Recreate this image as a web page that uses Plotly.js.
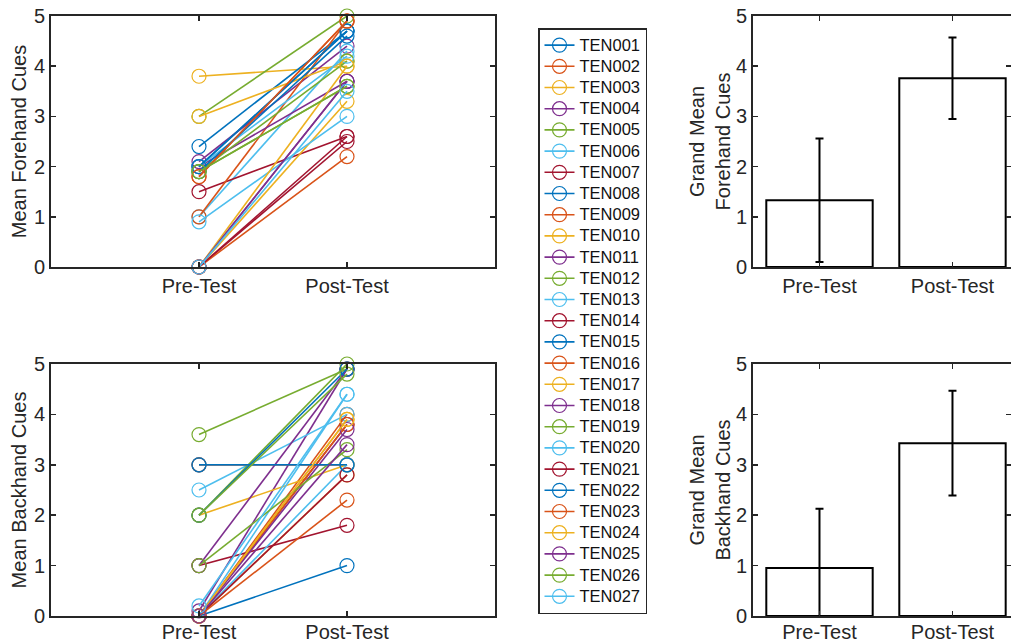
<!DOCTYPE html>
<html>
<head>
<meta charset="utf-8">
<script src="https://cdn.plot.ly/plotly-3.0.1.min.js"></script>
<style>html,body{margin:0;padding:0;background:#fff;overflow:hidden;}</style>
</head>
<body>
<div id="chart" style="width:1011px;height:644px;"></div>
<script>
// ---- data ----
const categories = ['Pre-Test', 'Post-Test'];
const subjects = ['TEN001','TEN002','TEN003','TEN004','TEN005','TEN006','TEN007','TEN008','TEN009','TEN010',
  'TEN011','TEN012','TEN013','TEN014','TEN015','TEN016','TEN017','TEN018','TEN019','TEN020',
  'TEN021','TEN022','TEN023','TEN024','TEN025','TEN026','TEN027'];
const forePre  = [2.0, 1.8, 3.8, 2.1, 3.0, 1.0, 1.5, 2.4, 1.0, 3.0, 2.0, 1.9, 2.0, 0.0, 1.9, 0.0, 0.0, 0.0, 1.9, 0.9, 0.0, 2.0, 1.8, 0.0, 0.0, 1.9, 0.0];
const forePost = [4.7, 4.9, 4.0, 4.4, 5.0, 4.3, 2.6, 4.7, 4.9, 4.1, 3.7, 4.1, 4.2, 2.5, 4.6, 2.2, 3.3, 3.7, 3.6, 3.0, 2.6, 4.7, 4.9, 4.0, 3.7, 3.6, 3.5];
const backPre  = [0.0, 0.0, 0.0, 0.1, 3.6, 2.5, 1.0, 3.0, 3.0, 2.0, 1.0, 2.0, 0.0, 0.0, 2.0, 0.0, 0.0, 0.0, 1.0, 0.0, 0.0, 3.0, 0.0, 0.0, 0.0, 2.0, 0.2];
const backPost = [1.0, 4.0, 2.8, 4.9, 4.9, 4.0, 1.8, 3.0, 3.0, 3.0, 4.9, 5.0, 4.4, 3.8, 4.9, 3.8, 3.9, 3.7, 3.3, 3.0, 2.8, 3.0, 2.3, 3.9, 3.4, 4.8, 4.4];
const grandForeMean = [1.33, 3.76];
const grandForeSD   = [1.23, 0.81];
const grandBackMean = [0.95, 3.43];
const grandBackSD   = [1.18, 1.04];

// ---- style ----
const palette = ['#0072BD','#D95319','#EDB120','#7E2F8E','#77AC30','#4DBEEE','#A2142F'];
const FONT = 'Liberation Sans, Arial, Helvetica, sans-serif';
const TXT = '#262626';
const FS = 20;

const traces = [];
subjects.forEach((s, i) => {
  const c = palette[i % palette.length];
  traces.push({
    type: 'scatter', mode: 'lines+markers',
    name: '<span style="font-size:16.5px">' + s + '</span>',
    x: categories, y: [forePre[i], forePost[i]],
    xaxis: 'x', yaxis: 'y',
    line: {color: c, width: 1.6},
    marker: {symbol: 'circle-open', size: 14, color: c, line: {width: 1.2, color: c}},
    showlegend: true, legendgroup: s, cliponaxis: false
  });
});
subjects.forEach((s, i) => {
  const c = palette[i % palette.length];
  traces.push({
    type: 'scatter', mode: 'lines+markers', name: s,
    x: categories, y: [backPre[i], backPost[i]],
    xaxis: 'x2', yaxis: 'y2',
    line: {color: c, width: 1.6},
    marker: {symbol: 'circle-open', size: 14, color: c, line: {width: 1.2, color: c}},
    showlegend: false, legendgroup: s, cliponaxis: false
  });
});
function barTrace(means, sds, xa, ya) {
  return {
    type: 'bar', x: categories, y: means, xaxis: xa, yaxis: ya, width: 0.8,
    marker: {color: '#ffffff', line: {color: '#000000', width: 2}},
    error_y: {type: 'data', array: sds, visible: true, color: '#000000', thickness: 2, width: 4},
    showlegend: false
  };
}
traces.push(barTrace(grandForeMean, grandForeSD, 'x3', 'y3'));
traces.push(barTrace(grandBackMean, grandBackSD, 'x4', 'y4'));

function xAx(domain, anchor, range, lift) {
  return {
    domain: domain, anchor: anchor, type: 'category', categoryarray: categories,
    range: range, showline: true, linecolor: TXT, linewidth: 2, mirror: 'ticks',
    ticks: 'inside', ticklen: 5, tickwidth: 1.5, tickcolor: TXT,
    ticklabelstandoff: lift,
    tickfont: {family: FONT, size: FS, color: TXT}, showgrid: false, zeroline: false, fixedrange: true
  };
}
function yAx(domain, anchor, title, standoff) {
  return {
    domain: domain, anchor: anchor, range: [0, 5], dtick: 1, tick0: 0,
    showline: true, linecolor: TXT, linewidth: 2, mirror: 'ticks',
    ticks: 'inside', ticklen: 5, tickwidth: 1.5, tickcolor: TXT,
    tickfont: {family: FONT, size: FS, color: TXT}, showgrid: false, zeroline: false,
    title: {text: title, font: {family: FONT, size: FS, color: TXT}, standoff: standoff}, fixedrange: true
  };
}

const W = 1011, H = 644;
const px = v => v / W, py = v => 1 - v / H;

const layout = {
  width: W, height: H,
  margin: {l: 0, r: 0, t: 0, b: 0},
  paper_bgcolor: '#ffffff', plot_bgcolor: '#ffffff',
  font: {family: FONT, color: TXT},
  showlegend: true,
  xaxis:  xAx([px(51), px(495)], 'y', [-1, 2], 0),
  yaxis:  yAx([py(267), py(16)], 'x', 'Mean Forehand Cues', 2),
  xaxis2: xAx([px(51), px(495)], 'y2', [-1, 2], -3),
  yaxis2: yAx([py(616), py(364)], 'x2', 'Mean Backhand Cues', 2),
  xaxis3: xAx([px(753), 1], 'y3', [-0.5, 1.44], 0),
  yaxis3: yAx([py(267), py(16)], 'x3', 'Grand Mean<br>Forehand Cues', 0),
  xaxis4: xAx([px(753), 1], 'y4', [-0.5, 1.44], -3),
  yaxis4: yAx([py(616), py(364)], 'x4', 'Grand Mean<br>Backhand Cues', 0),
  legend: {
    x: px(538), y: py(28), xanchor: 'left', yanchor: 'top',
    bgcolor: '#ffffff', bordercolor: TXT, borderwidth: 1.5,
    font: {family: FONT, size: 14, color: '#111111'},
    tracegroupgap: 0, itemclick: false, itemdoubleclick: false
  }
};

Plotly.newPlot('chart', traces, layout, {displayModeBar: false, staticPlot: true});
</script>
</body>
</html>
